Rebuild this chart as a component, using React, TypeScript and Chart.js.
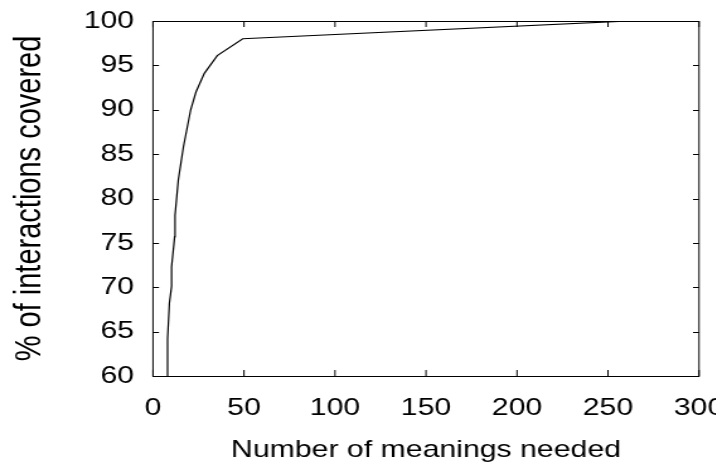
import React, { useEffect, useRef } from "react";
import { Chart, registerables } from "chart.js";

Chart.register(...registerables);

// Data
const meaningsNeeded = [8, 8, 9, 10.2, 10.2, 11.9, 12.1, 13.9, 16.7, 20.7, 23.6, 28.2, 35.3, 49.3, 262];
const percentCovered = [60, 64.2, 68.2, 70.1, 72.3, 75.7, 78.1, 82.1, 85.8, 90, 92, 94.1, 96.1, 98, 100];
const xTitle = "Number of meanings needed";
const yTitle = "% of interactions covered";

// Layout (canvas is horizontally stretched like the reference)
const SX = 1.26;
const CW = 600;
const CH = 472;
const FONT = "'Liberation Sans', Arial, Helvetica, sans-serif";

const framePlugin = {
  id: "frame",
  afterDraw(chart: any) {
    const { ctx, chartArea } = chart;
    const { left, right, top, bottom } = chartArea;
    ctx.save();
    ctx.strokeStyle = "#000";
    ctx.lineWidth = 1;
    ctx.strokeRect(left, top + 0.5, right - left, bottom - top);
    const xs = chart.scales.x;
    const ys = chart.scales.y;
    const tx = 6;
    const ty = 6 / SX;
    ctx.beginPath();
    xs.ticks.forEach((t: any) => {
      const p = xs.getPixelForValue(t.value);
      ctx.moveTo(p, bottom);
      ctx.lineTo(p, bottom - tx);
      ctx.moveTo(p, top);
      ctx.lineTo(p, top + tx);
    });
    ys.ticks.forEach((t: any) => {
      const p = Math.round(ys.getPixelForValue(t.value)) + 0.5;
      ctx.moveTo(left, p);
      ctx.lineTo(left + ty, p);
      ctx.moveTo(right, p);
      ctx.lineTo(right - ty, p);
    });
    ctx.stroke();
    ctx.restore();
  },
};

export default function App() {
  const ref = useRef<HTMLCanvasElement>(null);
  useEffect(() => {
    const plotLeft = 153 / SX;
    const plotRight = 699 / SX;
    const chart = new Chart(ref.current as HTMLCanvasElement, {
      type: "line",
      data: {
        datasets: [
          {
            data: meaningsNeeded.map((x, i) => ({ x, y: percentCovered[i] })),
            borderColor: "#000",
            borderWidth: 1.2,
            pointRadius: 0,
            fill: false,
            tension: 0,
          },
        ],
      },
      options: {
        animation: false,
        responsive: false,
        maintainAspectRatio: false,
        layout: { padding: { top: 21, right: CW - plotRight, left: 0, bottom: 0 } },
        plugins: { legend: { display: false }, tooltip: { enabled: false } },
        scales: {
          x: {
            type: "linear",
            min: 0,
            max: 300,
            grid: { display: false, drawTicks: false },
            border: { display: false },
            ticks: {
              stepSize: 50,
              padding: 18,
              color: "#000",
              maxRotation: 0,
              font: { family: FONT, size: 24 },
            },
            title: {
              display: true,
              text: xTitle,
              color: "#000",
              font: { family: FONT, size: 24 },
              padding: { top: 0, bottom: 7 },
            },
            afterFit(scale: any) {
              scale.height = CH - 376;
              scale.paddingLeft = 0;
              scale.paddingRight = 0;
            },
          },
          y: {
            type: "linear",
            min: 60,
            max: 100,
            grid: { display: false, drawTicks: false },
            border: { display: false },
            ticks: {
              stepSize: 5,
              padding: 15,
              color: "#000",
              font: { family: FONT, size: 24 },
            },
            title: {
              display: true,
              text: yTitle,
              color: "#000",
              font: { family: FONT, size: 29 },
              padding: { top: 6.5, bottom: 0 },
            },
            afterFit(scale: any) {
              scale.width = plotLeft;
              scale.paddingTop = 0;
              scale.paddingBottom = 0;
            },
          },
        },
      },
      plugins: [framePlugin],
    });
    return () => chart.destroy();
  }, []);

  return (
    <div
      style={{
        position: "fixed",
        left: 0,
        top: 0,
        width: 716,
        height: CH,
        overflow: "hidden",
        background: "#fff",
      }}
    >
      <div style={{ width: CW, height: CH, transform: `scaleX(${SX})`, transformOrigin: "0 0" }}>
        <canvas ref={ref} width={CW} height={CH} style={{ display: "block" }} />
      </div>
    </div>
  );
}
